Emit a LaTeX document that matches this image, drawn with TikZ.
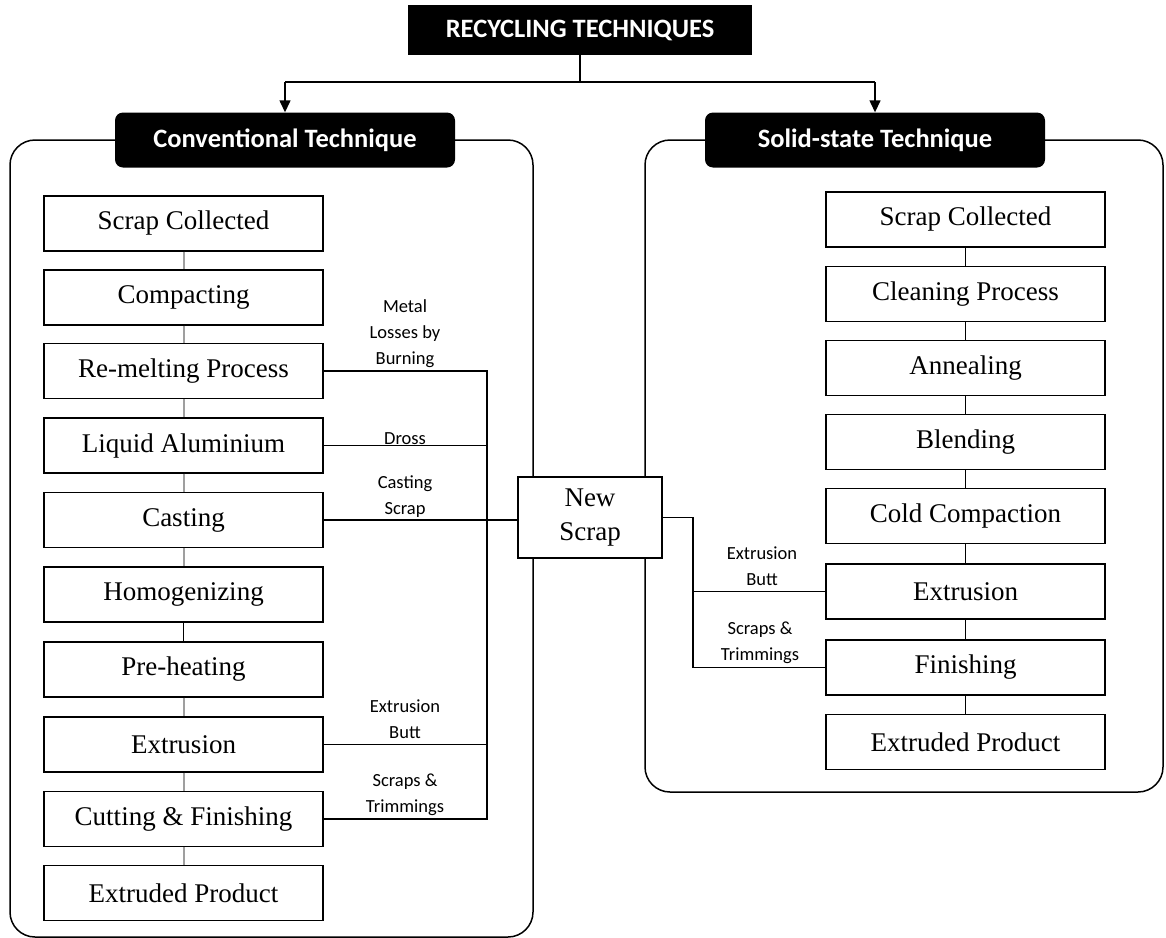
\documentclass[tikz,border=0pt]{standalone}
\usepackage{fontspec}
\setmainfont{Liberation Serif}
\newfontfamily\labelfont{Carlito}
\usetikzlibrary{arrows.meta}
\begin{document}
\begin{tikzpicture}[x=1pt,y=-1pt,
  stepbox/.style={draw, line width=1.4pt, fill=white, minimum width=279pt,
    minimum height=55pt, inner sep=0pt, font=\fontsize{27}{30}\selectfont},
  hdr/.style={fill=black, rounded corners=8pt, text=white, inner sep=0pt,
    font=\labelfont\bfseries\fontsize{26.5}{30}\selectfont,
    minimum width=340pt, minimum height=55pt},
  note/.style={font=\labelfont\fontsize{18.5}{26}\selectfont, align=center, inner sep=0pt},
  frame/.style={draw, line width=1.5pt, rounded corners=25pt},
  link/.style={draw, line width=1.4pt},
  glink/.style={draw=gray!75, line width=2pt},
  tip/.style={-{Triangle[width=11pt,length=12pt]}, line width=1.4pt}]
\useasboundingbox (0,0) rectangle (1166,937);

% group frames
\draw[frame] (10,140) rectangle (533,937);
\draw[frame] (645,140) rectangle (1163,792);

% title and group headers
\node[fill=black, text=white, minimum width=344pt, minimum height=50pt, inner sep=0pt,
  font=\labelfont\bfseries\fontsize{26.5}{30}\selectfont] (title) at (580,30) {RECYCLING TECHNIQUES};
\node[hdr] (conv) at (285,140) {Conventional Technique};
\node[hdr] (solid) at (875,140) {Solid-state Technique};

\coordinate (split) at (title.south |- 0,82);
\draw[link] (title.south) -- (split);
\draw[link] (split -| conv.north) -- (split -| solid.north);
\draw[tip] (split -| conv.north) -- (conv.north);
\draw[tip] (split -| solid.north) -- (solid.north);

% conventional route
\node[stepbox] (c1) at (183.5,223.5) {Scrap Collected};
\node[stepbox] (c2) at (183.5,297.5) {Compacting};
\node[stepbox] (c3) at (183.5,371) {Re-melting Process};
\node[stepbox] (c4) at (183.5,445.5) {Liquid Aluminium};
\node[stepbox] (c5) at (183.5,520) {Casting};
\node[stepbox] (c6) at (183.5,594.5) {Homogenizing};
\node[stepbox] (c7) at (183.5,669.5) {Pre-heating};
\node[stepbox] (c8) at (183.5,744.5) {Extrusion};
\node[stepbox] (c9) at (183.5,819) {Cutting \& Finishing};
\node[stepbox] (c10) at (183.5,893) {Extruded Product};

\draw[glink] (c1) -- (c2);
\draw[glink] (c2) -- (c3);
\draw[glink] (c3) -- (c4);
\draw[glink] (c4) -- (c5);
\draw[glink] (c5) -- (c6);
\draw[link] (c6) -- (c7);
\draw[glink] (c7) -- (c8);
\draw[glink] (c8) -- (c9);
\draw[glink] (c9) -- (c10);

% solid-state route
\node[stepbox] (s1) at (965.5,219.5) {Scrap Collected};
\node[stepbox] (s2) at (965.5,294) {Cleaning Process};
\node[stepbox] (s3) at (965.5,368) {Annealing};
\node[stepbox] (s4) at (965.5,442) {Blending};
\node[stepbox] (s5) at (965.5,516) {Cold Compaction};
\node[stepbox] (s6) at (965.5,591.5) {Extrusion};
\node[stepbox] (s7) at (965.5,667.5) {Finishing};
\node[stepbox] (s8) at (965.5,742) {Extruded Product};

\foreach \a/\b in {s1/s2,s2/s3,s3/s4,s4/s5,s5/s6,s6/s7,s7/s8}
  \draw[link] (\a) -- (\b);

% new scrap collector
\node[stepbox, minimum width=144pt, minimum height=81pt, align=center,
  font=\fontsize{27}{34}\selectfont] (ns) at (590,517.5) {New\\Scrap};

\coordinate (lbus) at (487,0);
\coordinate (rbus) at (693,0);

\draw[link] (c3.east) -- (c3.east -| lbus) -- (c9.east -| lbus) -- (c9.east);
\draw[link] (c4.east) -- (c4.east -| lbus);
\draw[link] (c5.east) -- (c5.east -| ns.west);
\draw[link] (c8.east) -- (c8.east -| lbus);

\draw[link] (ns.east) -- (ns.east -| rbus) |- (s7.west);
\draw[link] (s6.west) -- (s6.west -| rbus);

% scrap stream labels
\node[note] (n1) at (405,334) {Metal\\Losses by\\Burning};
\node[note] (n2) at (405,439) {Dross};
\node[note] (n3) at (405,497) {Casting\\Scrap};
\node[note] (n4) at (405,719) {Extrusion\\Butt};
\node[note] (n5) at (405,795) {Scraps \&\\Trimmings};
\node[note] (n6) at (762,566) {Extrusion\\Butt};
\node[note] (n7) at (760,643) {Scraps \&\\Trimmings};
\end{tikzpicture}
\end{document}
